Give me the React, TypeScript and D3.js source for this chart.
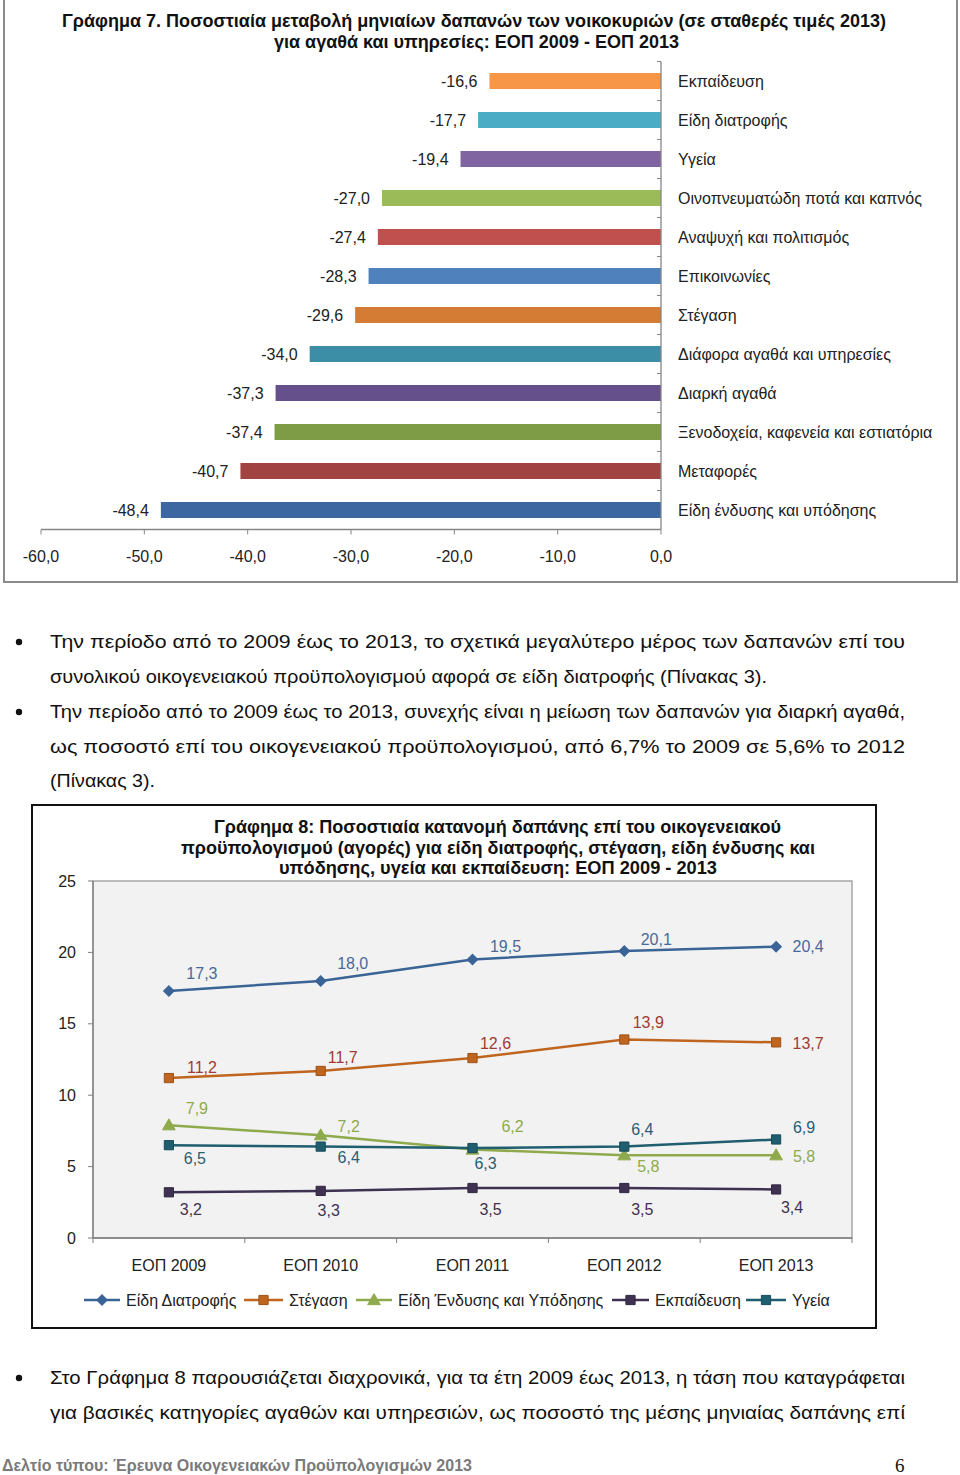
import React from "react";
import * as d3 from "d3";

// ---------- Chart 7 data ----------
const barCategories = [
  "Εκπαίδευση",
  "Είδη διατροφής",
  "Υγεία",
  "Οινοπνευματώδη ποτά και καπνός",
  "Αναψυχή και πολιτισμός",
  "Επικοινωνίες",
  "Στέγαση",
  "Διάφορα αγαθά και υπηρεσίες",
  "Διαρκή αγαθά",
  "Ξενοδοχεία, καφενεία και εστιατόρια",
  "Μεταφορές",
  "Είδη ένδυσης και υπόδησης",
];
const barValues = [-16.6, -17.7, -19.4, -27.0, -27.4, -28.3, -29.6, -34.0, -37.3, -37.4, -40.7, -48.4];
const barColors = [
  "#F79646", "#4BACC6", "#8064A2", "#9BBB59", "#C0504D", "#4F81BD",
  "#D47B34", "#3B8EA5", "#65508C", "#7E9C46", "#A14341", "#3D67A0",
];
const barTicks = [-60, -50, -40, -30, -20, -10, 0];

// ---------- Chart 8 data ----------
const years = ["ΕΟΠ 2009", "ΕΟΠ 2010", "ΕΟΠ 2011", "ΕΟΠ 2012", "ΕΟΠ 2013"];
const seriesNames = ["Είδη Διατροφής", "Στέγαση", "Είδη Ένδυσης και Υπόδησης", "Εκπαίδευση", "Υγεία"];
const foodValues = [17.3, 18.0, 19.5, 20.1, 20.4];
const housingValues = [11.2, 11.7, 12.6, 13.9, 13.7];
const clothingValues = [7.9, 7.2, 6.2, 5.8, 5.8];
const educationValues = [3.2, 3.3, 3.5, 3.5, 3.4];
const healthValues = [6.5, 6.4, 6.3, 6.4, 6.9];
const lineTicks = [0, 5, 10, 15, 20, 25];

// ---------- styles / layout (not data) ----------
const lineColors = ["#3A6396", "#C0651F", "#8FAA4C", "#3F3151", "#1F5E6E"];
const labelColors = ["#48699B", "#9E3C34", "#8FAA4C", "#403152", "#2A5E72"];
const markerKinds = ["diamond", "square", "triangle", "square", "square"];
const labelOffsets: [number, number][][] = [
  [[33, -17], [32, -17], [33, -13], [32, -11], [32, 0]],
  [[33, -11], [22, -13], [23, -15], [24, -17], [32, 1]],
  [[28, -17], [28, -9], [40, -23], [24, 11], [28, 1]],
  [[22, 17], [8, 20], [18, 21], [18, 21], [16, 18]],
  [[26, 13], [28, 11], [13, 15], [18, -17], [28, -12]],
];

const paragraphLines = [
  { t: "Την περίοδο από το 2009 έως το 2013, το σχετικά μεγαλύτερο μέρος των δαπανών επί του", y: 648, w: 855, bullet: true },
  { t: "συνολικού οικογενειακού προϋπολογισμού αφορά σε είδη διατροφής (Πίνακας 3).", y: 683, w: 717, bullet: false },
  { t: "Την περίοδο από το 2009 έως το 2013, συνεχής είναι η μείωση των δαπανών για διαρκή αγαθά,", y: 718, w: 855, bullet: true },
  { t: "ως ποσοστό επί του οικογενειακού προϋπολογισμού, από 6,7% το 2009 σε 5,6% το 2012", y: 753, w: 855, bullet: false },
  { t: "(Πίνακας 3).", y: 787, w: 105, bullet: false },
  { t: "Στο Γράφημα 8 παρουσιάζεται διαχρονικά, για τα έτη 2009 έως 2013, η τάση που καταγράφεται", y: 1384, w: 855, bullet: true },
  { t: "για βασικές κατηγορίες αγαθών και υπηρεσιών, ως ποσοστό της μέσης μηνιαίας δαπάνης επί", y: 1419, w: 855, bullet: false },
];

const SANS = "'Liberation Sans', Arial, Helvetica, sans-serif";
const NARROW = "'Liberation Sans Narrow', 'Arial Narrow', 'Liberation Sans', Arial, sans-serif";
const FS = 16;
const fmt = (v: number) => d3.format(".1f")(v).replace(".", ",").replace("\u2212", "-");

function Marker({ kind, x, y, color }: { kind: string; x: number; y: number; color: string }) {
  if (kind === "diamond") {
    const p = d3.symbol(d3.symbolSquare, 56)();
    return <path d={p || ""} transform={`translate(${x},${y}) rotate(45)`} fill={color} stroke={color} strokeWidth={1} />;
  }
  if (kind === "triangle") {
    const p = d3.symbol(d3.symbolTriangle, 70)();
    return <path d={p || ""} transform={`translate(${x},${y + 1})`} fill={color} stroke={color} strokeWidth={1} />;
  }
  const p = d3.symbol(d3.symbolSquare, 85)();
  return <path d={p || ""} transform={`translate(${x},${y})`} fill={color} stroke={d3.color(color)!.darker(0.6).toString()} strokeWidth={1} />;
}

export default function App() {
  // ----- Chart 7 scales -----
  const xBar = d3.scaleLinear().domain([-60, 0]).range([41, 661]);
  const yBar = d3.scaleBand<string>().domain(barCategories).range([61.5, 529.5]).padding(0);
  const bw = yBar.bandwidth();
  const barH = bw * 0.41;

  // ----- Chart 8 scales -----
  const plot = { l: 93, r: 852, t: 881, b: 1238 };
  const xLine = d3.scaleBand<string>().domain(years).range([plot.l, plot.r]);
  const yLine = d3.scaleLinear().domain([0, 25]).range([plot.b, plot.t]);
  const cx = (i: number) => (xLine(years[i]) as number) + xLine.bandwidth() / 2;
  const allSeries = [foodValues, housingValues, clothingValues, educationValues, healthValues];
  const lineGen = d3.line<number>().x((_, i) => cx(i)).y((v) => yLine(v));

  const legendItems = [
    { x0: 84, tx: 126 },
    { x0: 244, tx: 289 },
    { x0: 356, tx: 398 },
    { x0: 612, tx: 655 },
    { x0: 746, tx: 792 },
  ];

  return (
    <svg width={960} height={1475} viewBox="0 0 960 1475" style={{ position: "absolute", left: 0, top: 0, display: "block", background: "#fff" }}>
      <rect x={0} y={0} width={960} height={1475} fill="#fff" />

      {/* ===== Chart 7 ===== */}
      <rect x={4} y={-6} width={953} height={588} fill="#fff" stroke="#8c8c8c" strokeWidth={2} />
      <text x={474} y={27} textAnchor="middle" fontFamily={NARROW} fontWeight="bold" fontSize={18} fill="#111" textLength={824} lengthAdjust="spacingAndGlyphs">
        Γράφημα 7. Ποσοστιαία μεταβολή μηνιαίων δαπανών των νοικοκυριών (σε σταθερές τιμές 2013)
      </text>
      <text x={476.5} y={48} textAnchor="middle" fontFamily={NARROW} fontWeight="bold" fontSize={18} fill="#111" textLength={405} lengthAdjust="spacingAndGlyphs">
        για αγαθά και υπηρεσίες: ΕΟΠ 2009 - ΕΟΠ 2013
      </text>

      {barCategories.map((c, i) => {
        const y0 = yBar(c) as number;
        const yc = y0 + bw / 2;
        const v = barValues[i];
        return (
          <g key={c}>
            <rect x={xBar(v)} y={yc - barH / 2} width={xBar(0) - xBar(v)} height={barH} fill={barColors[i]} />
            <text x={xBar(v) - 12} y={yc + 5.5} textAnchor="end" fontFamily={SANS} fontSize={FS} fill="#222">{fmt(v)}</text>
            <text x={678} y={yc + 5.5} fontFamily={SANS} fontSize={FS} fill="#222">{c}</text>
          </g>
        );
      })}
      {/* vertical category axis */}
      <line x1={661} x2={661} y1={61.5} y2={529.5} stroke="#868686" strokeWidth={1.3} />
      {d3.range(barCategories.length + 1).map((k) => {
        const y = 61.5 + k * bw;
        return <line key={k} x1={657} x2={661} y1={y} y2={y} stroke="#868686" strokeWidth={1} />;
      })}
      {/* horizontal value axis */}
      <line x1={41} x2={661} y1={529.5} y2={529.5} stroke="#868686" strokeWidth={1.3} />
      {barTicks.map((t) => (
        <g key={t}>
          <line x1={xBar(t)} x2={xBar(t)} y1={529.5} y2={534.5} stroke="#868686" strokeWidth={1} />
          <text x={xBar(t)} y={562} textAnchor="middle" fontFamily={SANS} fontSize={FS} fill="#222">{fmt(t)}</text>
        </g>
      ))}

      {/* ===== Paragraphs ===== */}
      {paragraphLines.map((l, i) => (
        <g key={i}>
          {l.bullet && <circle cx={19} cy={l.y - 6} r={3.2} fill="#111" />}
          <text x={50} y={l.y} fontFamily={NARROW} fontSize={19} fill="#111" textLength={l.w} lengthAdjust="spacingAndGlyphs">{l.t}</text>
        </g>
      ))}

      {/* ===== Chart 8 ===== */}
      <rect x={32} y={805} width={844} height={523} fill="#fff" stroke="#111" strokeWidth={2} />
      <text x={497.5} y={833} textAnchor="middle" fontFamily={NARROW} fontWeight="bold" fontSize={18} fill="#111" textLength={567} lengthAdjust="spacingAndGlyphs">
        Γράφημα 8: Ποσοστιαία κατανομή δαπάνης επί του οικογενειακού
      </text>
      <text x={498} y={854} textAnchor="middle" fontFamily={NARROW} fontWeight="bold" fontSize={18} fill="#111" textLength={634} lengthAdjust="spacingAndGlyphs">
        προϋπολογισμού (αγορές) για είδη διατροφής, στέγαση, είδη ένδυσης και
      </text>
      <text x={498} y={874} textAnchor="middle" fontFamily={NARROW} fontWeight="bold" fontSize={18} fill="#111" textLength={438} lengthAdjust="spacingAndGlyphs">
        υπόδησης, υγεία και εκπαίδευση:  ΕΟΠ 2009 - 2013
      </text>

      <rect x={plot.l} y={plot.t} width={plot.r - plot.l} height={plot.b - plot.t} fill="#f2f2f2" stroke="#9a9a9a" strokeWidth={1.3} />
      {/* y axis */}
      <line x1={plot.l} x2={plot.l} y1={plot.t} y2={plot.b} stroke="#7f7f7f" strokeWidth={1.3} />
      {lineTicks.map((t) => (
        <g key={t}>
          <line x1={plot.l - 5} x2={plot.l} y1={yLine(t)} y2={yLine(t)} stroke="#7f7f7f" strokeWidth={1} />
          <text x={76} y={yLine(t) + 5.5} textAnchor="end" fontFamily={SANS} fontSize={FS} fill="#222">{t}</text>
        </g>
      ))}
      {/* x axis */}
      <line x1={plot.l} x2={plot.r} y1={plot.b} y2={plot.b} stroke="#7f7f7f" strokeWidth={1.5} />
      {d3.range(years.length + 1).map((k) => {
        const x = plot.l + k * xLine.bandwidth();
        return <line key={k} x1={x} x2={x} y1={plot.b} y2={plot.b + 5} stroke="#7f7f7f" strokeWidth={1} />;
      })}
      {years.map((yr, i) => (
        <text key={yr} x={cx(i)} y={1271} textAnchor="middle" fontFamily={SANS} fontSize={FS} fill="#222">{yr}</text>
      ))}

      {allSeries.map((vals, s) => (
        <g key={s}>
          <path d={lineGen(vals) || ""} fill="none" stroke={lineColors[s]} strokeWidth={2.5} />
          {vals.map((v, i) => (
            <Marker key={i} kind={markerKinds[s]} x={cx(i)} y={yLine(v)} color={lineColors[s]} />
          ))}
        </g>
      ))}
      {allSeries.map((vals, s) =>
        vals.map((v, i) => (
          <text key={`${s}-${i}`} x={cx(i) + labelOffsets[s][i][0]} y={yLine(v) + labelOffsets[s][i][1] + 5.5} textAnchor="middle" fontFamily={SANS} fontSize={FS} fill={labelColors[s]}>
            {fmt(v)}
          </text>
        ))
      )}

      {/* legend */}
      {seriesNames.map((n, s) => {
        const it = legendItems[s];
        const y = 1300;
        return (
          <g key={n}>
            <line x1={it.x0} x2={it.tx - 6} y1={y} y2={y} stroke={lineColors[s]} strokeWidth={2.5} />
            <Marker kind={markerKinds[s]} x={(it.x0 + it.tx - 6) / 2} y={y} color={lineColors[s]} />
            <text x={it.tx} y={y + 5.5} fontFamily={SANS} fontSize={FS} fill="#222">{n}</text>
          </g>
        );
      })}

      {/* footer */}
      <text x={2} y={1471} fontFamily={NARROW} fontWeight="bold" fontSize={17} fill="#7a7a7a" textLength={470} lengthAdjust="spacingAndGlyphs">
        Δελτίο τύπου: Έρευνα Οικογενειακών Προϋπολογισμών 2013
      </text>
      <text x={895} y={1472} fontFamily="'Liberation Serif', 'Times New Roman', serif" fontSize={19} fill="#111">6</text>
    </svg>
  );
}
